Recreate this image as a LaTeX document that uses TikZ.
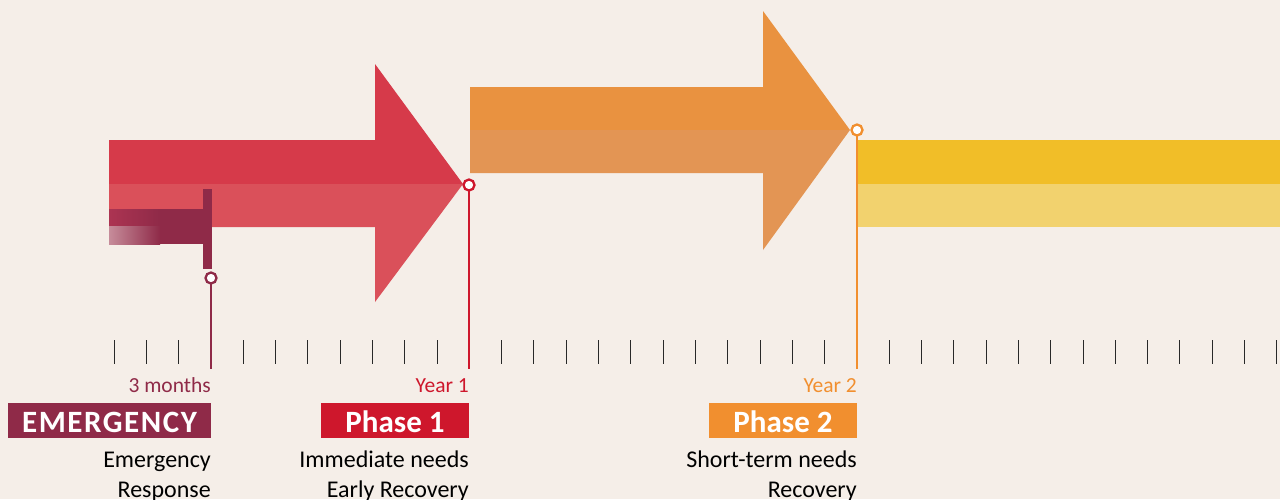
\documentclass[tikz,border=0pt]{standalone}
\usepackage{fontspec}
\setmainfont{Carlito}
\definecolor{bg}{RGB}{245,238,232}
\definecolor{redA}{RGB}{214,58,74}
\definecolor{redB}{RGB}{218,80,90}
\definecolor{oraA}{RGB}{233,146,64}
\definecolor{oraB}{RGB}{227,149,84}
\definecolor{yelA}{RGB}{241,190,40}
\definecolor{yelB}{RGB}{242,210,110}
\definecolor{emer}{RGB}{143,42,72}
\definecolor{emA}{RGB}{172,52,82}
\definecolor{emB}{RGB}{198,140,154}
\definecolor{pone}{RGB}{206,23,44}
\definecolor{ptwo}{RGB}{241,143,47}
\definecolor{tick}{RGB}{40,40,40}
\begin{document}
\begin{tikzpicture}[x=1pt,y=-1pt,
  phasebox/.style={minimum height=35pt, inner sep=0pt, anchor=north east},
  boxtext/.style={text=white, inner sep=0pt, anchor=base, font=\bfseries\fontsize{31}{31}\selectfont},
  datelabel/.style={inner sep=0pt, anchor=base east, font=\fontsize{21.5}{21.5}\selectfont},
  desc/.style={inner sep=0pt, anchor=base east, align=right, font=\fontsize{24}{30}\selectfont},
  pin/.style={circle, draw, line width=2.3pt, fill=white, minimum size=11pt, inner sep=0pt},
  stem/.style={line width=2pt},
  ticktrait/.style={draw=tick, line width=1pt}
]
\useasboundingbox (0,0) rectangle (1280,499);
\fill[bg] (0,0) rectangle (1280,499);

% yellow band
\fill[yelA] (857,140) rectangle (1280,184);
\fill[yelB] (857,184) rectangle (1280,227);

% red arrow
\fill[redA] (109,140) -- (375,140) -- (375,64) -- (463,184) -- (109,184) -- cycle;
\fill[redB] (109,184) -- (463,184) -- (375,302) -- (375,227) -- (109,227) -- cycle;

% orange arrow
\fill[oraA] (470,87) -- (763,87) -- (763,11) -- (850,130) -- (470,130) -- cycle;
\fill[oraB] (470,130) -- (850,130) -- (763,250) -- (763,173) -- (470,173) -- cycle;

% emergency bar
\shade[left color=emA, right color=emer] (109,209) rectangle (160,226);
\fill[emer] (159.5,209) rectangle (205,226);
\shade[left color=emB, right color=emer] (109,226) rectangle (160,244);
\fill[emer] (159.5,226) rectangle (205,244);
\fill[emer] (203,189) rectangle (212,269);

% ticks
\foreach \k in {0,...,36}{
  \ifnum\k=3 \else\ifnum\k=11 \else\ifnum\k=23 \else
    \draw[ticktrait] ({114+32.3*\k},340) -- ++(0,24);
  \fi\fi\fi
}

% pins and stems
\coordinate (t3) at (211,369);
\coordinate (t12) at (469,369);
\coordinate (t24) at (857,369);
\draw[stem, emer] (211,278) -- (t3);
\draw[stem, pone] (469,185) -- (t12);
\draw[stem, ptwo] (857,130) -- (t24);
\node[pin, draw=emer] (p3) at (211,278) {};
\node[pin, draw=pone] (p12) at (469,185) {};
\node[pin, draw=ptwo] (p24) at (857,130) {};

% date labels
\node[datelabel, text=emer] (l3) at (211,392) {3 months};
\node[datelabel, text=pone] (l12) at (469,392) {Year 1};
\node[datelabel, text=ptwo] (l24) at (857,392) {Year 2};

% phase boxes
\node[phasebox, fill=emer, minimum width=203pt] (b0) at (211,403) {};
\node[phasebox, fill=pone, minimum width=148pt] (b1) at (469,403) {};
\node[phasebox, fill=ptwo, minimum width=148pt] (b2) at (857,403) {};
\node[boxtext] (e0) at (109.5,432) {\addfontfeature{LetterSpace=5}EMERGENCY};
\node[boxtext] (e1) at (395,432) {Phase 1};
\node[boxtext] (e2) at (783,432) {Phase 2};

% descriptions (base anchor = last line)
\node[desc] (d0) at (211,497) {Emergency\\Response};
\node[desc] (d1) at (469,497) {Immediate needs\\Early Recovery};
\node[desc] (d2) at (857,497) {Short-term needs\\Recovery};
\end{tikzpicture}
\end{document}
